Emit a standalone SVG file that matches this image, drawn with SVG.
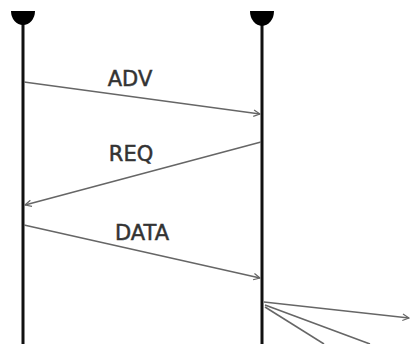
<svg xmlns="http://www.w3.org/2000/svg" width="410" height="344" viewBox="0 0 410 344">
<style>
.life{stroke:#111;stroke-width:3;fill:none}
.head{fill:#000}
.msg{stroke:#666;stroke-width:1.6;fill:none;marker-end:url(#arr)}
.fan{stroke:#666;stroke-width:1.6;fill:none}
.lbl{font-family:"DejaVu Sans",sans-serif;font-size:21px;fill:#333;stroke:#333;stroke-width:0.5;text-anchor:middle}
</style>
<defs>
<marker id="arr" viewBox="0 0 10 10" refX="9" refY="5" markerWidth="8" markerHeight="8" orient="auto" markerUnits="userSpaceOnUse">
<path d="M1,1 L9,5 L1,9" fill="none" stroke="#666" stroke-width="1.5"/>
</marker>
</defs>
<g id="nodeA">
<line class="life" x1="23" y1="14" x2="23" y2="344"/>
<path class="head" d="M11,11 H35 A12,14 0 0 1 11,11 Z"/>
</g>
<g id="nodeB">
<line class="life" x1="262" y1="14" x2="262" y2="344"/>
<path class="head" d="M250,11 H274 A12,15 0 0 1 250,11 Z"/>
</g>
<g id="connectors">
<line class="msg" x1="24" y1="82" x2="260" y2="114"/>
<text class="lbl" x="130" y="86">ADV</text>
<line class="msg" x1="261" y1="142" x2="25" y2="205"/>
<text class="lbl" x="131" y="161">REQ</text>
<line class="msg" x1="24" y1="225" x2="260" y2="278"/>
<text class="lbl" x="142" y="240">DATA</text>
<line class="msg" x1="264" y1="302" x2="409" y2="318"/>
<line class="fan" x1="265" y1="305" x2="370" y2="344"/>
<line class="fan" x1="265" y1="307" x2="324" y2="344"/>
</g>
</svg>
